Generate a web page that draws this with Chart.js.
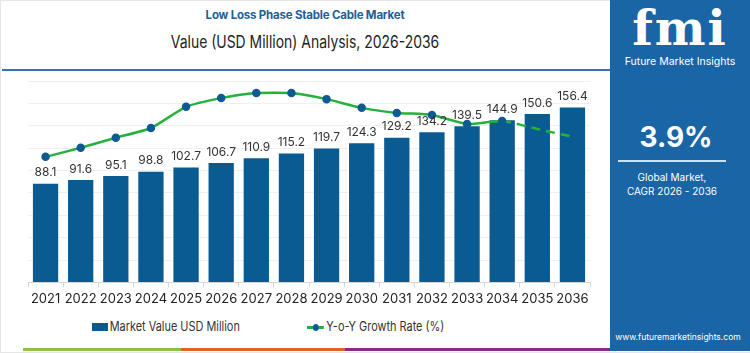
<!DOCTYPE html>
<html>
<head>
<meta charset="utf-8">
<script src="https://cdn.jsdelivr.net/npm/chart.js@4"></script>
<style>
  body { margin: 0; width: 750px; height: 353px; overflow: hidden; background: #fff; font-family: Inter, "Open Sans", sans-serif; }
  .frame { position: absolute; left: 0; top: 0; width: 748px; height: 351px; border: 1px solid #e6e6e6; }
  .title { position: absolute; left: 0; width: 610px; text-align: center; }
  .title-main { top: 8px; font-size: 11.5px; font-weight: 700; color: #1d5f96; letter-spacing: -0.2px; }
  .title-sub { top: 32px; font-size: 17px; font-weight: 400; color: #222; transform: scaleX(0.82); }
  .rule { position: absolute; left: 2px; top: 69px; width: 608px; height: 2px; background: #3374ad; }
  .chart-box { position: absolute; left: 0; top: 70px; width: 610px; height: 245px; }
  .legend { position: absolute; top: 318px; font-size: 13px; color: #333; transform: scaleX(0.84); transform-origin: left center; white-space: nowrap; }
  .swatch-bar { display: inline-block; width: 19px; height: 8px; background: #095b92; vertical-align: middle; margin-right: 2px; }
  .swatch-line { display: inline-block; position: relative; width: 20px; height: 3px; background: #26b13c; vertical-align: middle; margin-right: 3px; }
  .swatch-line::after { content: ""; position: absolute; left: 7px; top: -2px; width: 7px; height: 7px; border-radius: 50%; background: #0d5a94; }
  .strip { position: absolute; top: 348px; height: 3px; }
  .panel { position: absolute; left: 610px; top: 0; width: 140px; height: 351px; background: #1a65a5; color: #fff; text-align: center; }
  .logo { position: absolute; left: 0; width: 140px; top: 0; font-size: 48px; font-weight: 800; font-family: "DejaVu Serif", serif; letter-spacing: 2px; }
  .logo-sub { position: absolute; left: 0; width: 140px; top: 55px; font-size: 10.5px; }
  .cagr { position: absolute; left: 0; width: 132px; top: 120px; font-size: 28px; font-weight: 700; }
  .cagr-rule { position: absolute; left: 8px; top: 160px; width: 108px; height: 2px; background: #cfe0f0; }
  .cagr-sub { position: absolute; left: 0; width: 124px; top: 170px; font-size: 10px; line-height: 14px; }
  .site { position: absolute; left: 0; width: 136px; top: 332px; font-size: 8.5px; }
</style>
</head>
<body>
<div class="frame"></div>
<div class="title title-main">Low Loss Phase Stable Cable Market</div>
<div class="title title-sub">Value (USD Million) Analysis, 2026-2036</div>
<div class="rule"></div>

<div class="chart-box"><canvas id="market-chart"></canvas></div>

<div class="legend" style="left:92px"><span class="swatch-bar"></span>Market Value USD Million</div>
<div class="legend" style="left:307px"><span class="swatch-line"></span>Y-o-Y Growth Rate (%)</div>

<div class="strip" style="left:23px;width:158px;background:#8dc04a"></div>
<div class="strip" style="left:181px;width:164px;background:#e0612c"></div>
<div class="strip" style="left:345px;width:265px;background:#8a2b86"></div>

<div class="panel">
  <div class="logo">fmi</div>
  <div class="logo-sub">Future Market Insights</div>
  <div class="cagr">3.9%</div>
  <div class="cagr-rule"></div>
  <div class="cagr-sub">Global Market,<br>CAGR 2026 - 2036</div>
  <div class="site">www.futuremarketinsights.com</div>
</div>

<script>
const years = ['2021', '2022', '2023', '2024', '2025', '2026', '2027', '2028',
  '2029', '2030', '2031', '2032', '2033', '2034', '2035', '2036'];

const marketValue = [88.1, 91.6, 95.1, 98.8, 102.7, 106.7, 110.9, 115.2,
  119.7, 124.3, 129.2, 134.2, 139.5, 144.9, 150.6, 156.4];

// growth line (hidden right-hand scale)
const growthRate = [3.74, 4.01, 4.31, 4.60, 5.23, 5.49, 5.64, 5.64,
  5.46, 5.20, 5.05, 4.99, 4.72, 4.81, 4.57, 4.34];

const valueTicks = [0, 20, 40, 60, 80, 100, 120, 140, 160, 180];

// forecast part of the line is dashed, without markers
const firstDashedIndex = 13;

const barLabels = {
  id: 'barLabels',
  afterDatasetsDraw(chart) {
    const meta = chart.getDatasetMeta(1);
    const ctx = chart.ctx;
    ctx.save();
    ctx.font = '12px Inter, "Open Sans", sans-serif';
    ctx.fillStyle = '#333';
    ctx.textAlign = 'center';
    ctx.textBaseline = 'bottom';
    meta.data.forEach((bar, i) => {
      ctx.fillText(marketValue[i].toFixed(1), bar.x, bar.y - 5);
    });
    ctx.restore();
  }
};

new Chart(document.getElementById('market-chart'), {
  data: {
    labels: years,
    datasets: [
      {
        type: 'line',
        label: 'Y-o-Y Growth Rate (%)',
        data: growthRate,
        yAxisID: 'y2',
        order: 0,
        borderColor: '#26b13c',
        borderWidth: 2.5,
        tension: 0.2,
        pointRadius: growthRate.map((v, i) => (i > firstDashedIndex ? 0 : 3)),
        pointBackgroundColor: '#0d5a94',
        pointBorderColor: '#0d5a94',
        segment: {
          borderDash: (ctx) => (ctx.p0DataIndex >= firstDashedIndex ? [9, 6] : undefined)
        }
      },
      {
        type: 'bar',
        label: 'Market Value USD Million',
        data: marketValue,
        yAxisID: 'y',
        order: 1,
        backgroundColor: '#095b92',
        barPercentage: 0.72,
        categoryPercentage: 1
      }
    ]
  },
  options: {
    responsive: true,
    maintainAspectRatio: false,
    animation: false,
    layout: { padding: { top: 11, left: 28, right: 20, bottom: 4 } },
    plugins: {
      legend: { display: false },
      tooltip: { enabled: false }
    },
    scales: {
      x: {
        offset: true,
        grid: { offset: true, drawOnChartArea: false, color: '#d6d6d6', tickLength: 5 },
        border: { color: '#d6d6d6' },
        ticks: {
          color: '#222',
          font: { size: 13, family: 'Inter, "Open Sans", sans-serif' },
          padding: 4,
          maxRotation: 0,
          minRotation: 0,
          autoSkip: false
        }
      },
      y: {
        min: valueTicks[0],
        max: valueTicks[valueTicks.length - 1],
        afterBuildTicks: (axis) => { axis.ticks = valueTicks.map((v) => ({ value: v })); },
        ticks: { display: false },
        grid: { color: '#f0f0f0', drawTicks: false },
        border: { display: false }
      },
      y2: {
        display: false,
        min: 0,
        max: 6
      }
    }
  },
  plugins: [barLabels]
});
</script>
</body>
</html>
